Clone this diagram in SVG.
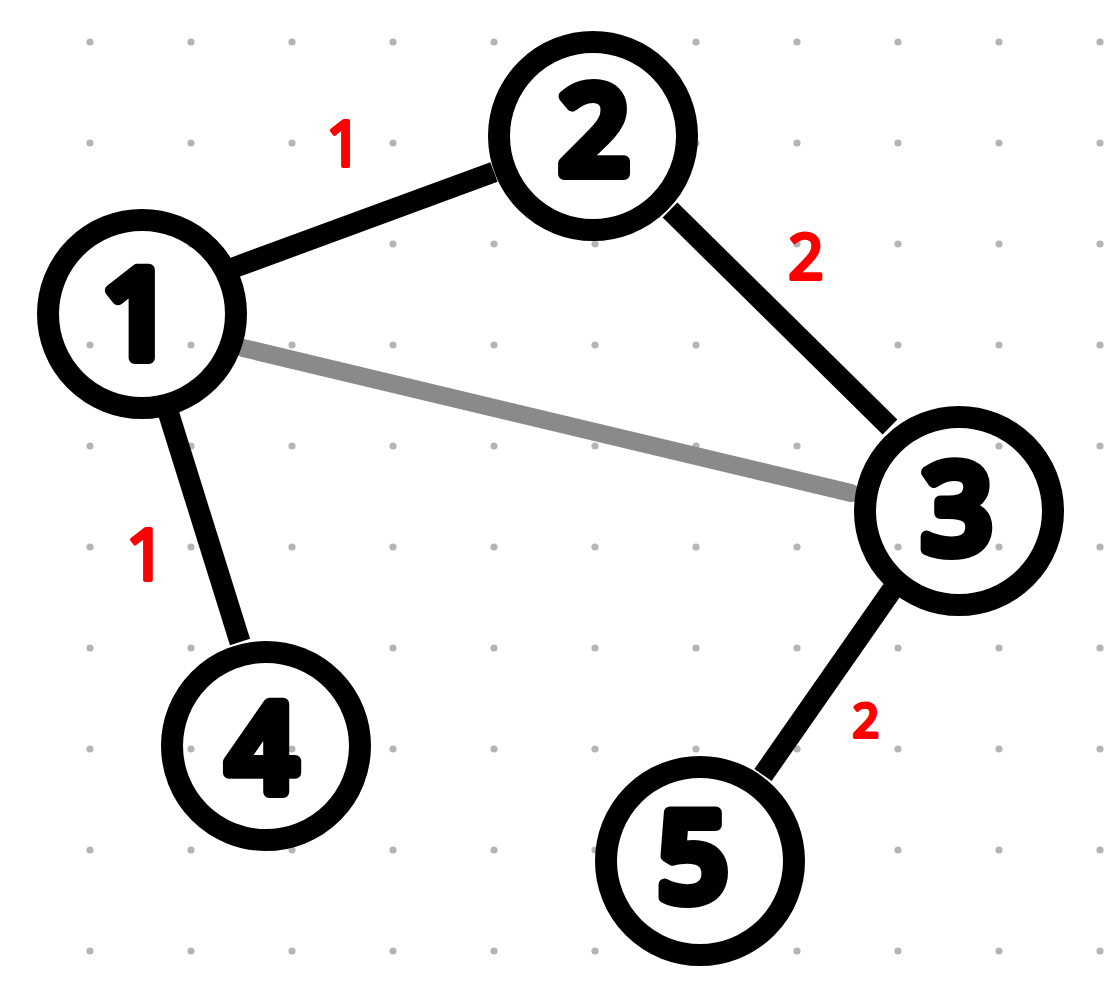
<svg xmlns="http://www.w3.org/2000/svg" width="1105" height="999" viewBox="0 0 1105 999">
<defs>
<pattern id="dots" x="0" y="0" width="101" height="101" patternUnits="userSpaceOnUse" patternTransform="translate(90 42)">
<circle cx="0" cy="0" r="3.6" fill="#b5b5b5"/>
<circle cx="101" cy="0" r="3.6" fill="#b5b5b5"/>
<circle cx="0" cy="101" r="3.6" fill="#b5b5b5"/>
<circle cx="101" cy="101" r="3.6" fill="#b5b5b5"/>
</pattern>
<style>
.node{fill:none;stroke:#000;stroke-width:22}
.edge{stroke:#000;stroke-width:21;stroke-linecap:butt}
.sel{stroke:#8a8a8a;stroke-width:18;stroke-linecap:round}
.num{font-family:"Open Sans","DejaVu Sans",sans-serif;font-weight:600;font-size:124px;fill:#000;stroke:#000;stroke-width:12;stroke-linejoin:round;stroke-linecap:round;text-anchor:middle}
.w{font-family:"Open Sans","DejaVu Sans",sans-serif;font-size:62px;fill:#ff0000;stroke:#ff0000;stroke-width:4;stroke-linejoin:round;text-anchor:middle}
</style>
</defs>
<rect width="1105" height="999" fill="#fff"/>
<rect width="1105" height="999" fill="url(#dots)"/>
<g id="connectors">
<line class="edge" x1="233" y1="268" x2="494" y2="172"/>
<line class="edge" x1="670" y1="210" x2="890" y2="427"/>
<line class="edge" x1="166" y1="405" x2="240" y2="642"/>
<line class="edge" x1="892" y1="590" x2="763" y2="775"/>
<line class="sel" x1="243" y1="348" x2="851" y2="493"/>
</g>
<g id="weights">
<text class="w" x="344" y="166">1</text>
<text class="w" x="806" y="279">2</text>
<text class="w" x="146" y="580" style="font-size:72px">1</text>
<text class="w" x="866" y="737" style="font-size:46px">2</text>
</g>
<g id="node1"><circle class="node" cx="142" cy="314" r="94"/><text class="num" x="137" y="358">1</text></g>
<g id="node2"><circle class="node" cx="593" cy="136" r="94"/><text class="num" x="594" y="174">2</text></g>
<g id="node3"><circle class="node" cx="959" cy="511" r="94"/><text class="num" x="957" y="553">3</text></g>
<g id="node4"><circle class="node" cx="266" cy="746" r="94"/><text class="num" x="262" y="792">4</text></g>
<g id="node5"><circle class="node" cx="700" cy="861" r="94"/><text class="num" x="693" y="901">5</text></g>
</svg>
